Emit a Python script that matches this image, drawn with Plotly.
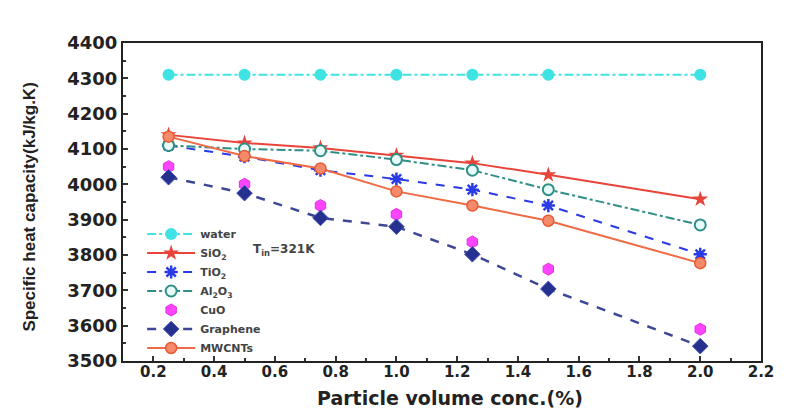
import plotly.graph_objects as go

conc = [0.25, 0.5, 0.75, 1.0, 1.25, 1.5, 2.0]
water = [4310, 4310, 4310, 4310, 4310, 4310, 4310]
sio2 = [4140, 4117, 4103, 4082, 4060, 4027, 3958]
tio2 = [4110, 4078, 4040, 4015, 3985, 3940, 3802]
al2o3 = [4110, 4100, 4095, 4070, 4040, 3985, 3885]
cuo = [4050, 4000, 3940, 3915, 3837, 3760, 3590]
graphene = [4020, 3975, 3905, 3880, 3802, 3704, 3542]
mwcnts = [4135, 4080, 4045, 3980, 3940, 3897, 3777]

x_ticks = [0.2, 0.4, 0.6, 0.8, 1.0, 1.2, 1.4, 1.6, 1.8, 2.0, 2.2]
y_ticks = [3500, 3600, 3700, 3800, 3900, 4000, 4100, 4200, 4300, 4400]

series = [
    ("water", water, dict(color="#3fe3e3", width=2, dash="dashdot"),
     dict(symbol="circle", size=12, color="#3fe3e3", line=dict(width=0)), "lines+markers"),
    ("SiO<sub>2</sub>", sio2, dict(color="#e8443a", width=2),
     dict(symbol="star", size=12, color="#e8443a", line=dict(width=0)), "lines+markers"),
    ("TiO<sub>2</sub>", tio2, dict(color="#2a3be6", width=2, dash="dash"),
     dict(symbol="asterisk-open", size=11, line=dict(color="#1a2bee", width=2.5)), "lines+markers"),
    ("Al<sub>2</sub>O<sub>3</sub>", al2o3, dict(color="#2f8f86", width=2, dash="dashdot"),
     dict(symbol="circle", size=11, color="#e8fbf8", line=dict(color="#2f8f86", width=2)), "lines+markers"),
    ("CuO", cuo, dict(color="#ff40ff", width=2),
     dict(symbol="hexagon", size=12, color="#ff44ff", line=dict(color="#e030e0", width=1)), "markers"),
    ("Graphene", graphene, dict(color="#3e4796", width=2.5, dash="dash"),
     dict(symbol="diamond", size=12, color="#26318f", line=dict(color="#4452b8", width=1)), "lines+markers"),
    ("MWCNTs", mwcnts, dict(color="#ef6a45", width=2),
     dict(symbol="circle", size=11, color="#f58a6a", line=dict(color="#e85a36", width=1.5)), "lines+markers"),
]

fig = go.Figure()
for name, vals, line, marker, mode in series:
    fig.add_trace(go.Scatter(x=conc, y=vals, name=name, mode=mode,
                             line=line, marker=marker))

fig.update_layout(
    width=795, height=411,
    margin=dict(l=123, r=34, t=43, b=50),
    paper_bgcolor="white", plot_bgcolor="white",
    showlegend=True,
    legend=dict(x=0.03, y=0.445, xanchor="left", yanchor="top",
                bgcolor="rgba(0,0,0,0)", tracegroupgap=0,
                font=dict(family="DejaVu Sans", size=11, color="#444444", weight="bold"),
                itemwidth=48),
    xaxis=dict(range=[0.1, 2.2], tickvals=x_ticks,
               ticktext=["%.1f" % v for v in x_ticks],
               ticks="inside", ticklen=5, tickwidth=1.5, tickcolor="#333",
               minor=dict(ticks="inside", dtick=0.1, ticklen=3, tickcolor="#333"),
               showline=True, linecolor="#222", linewidth=2, mirror=True,
               showgrid=False, zeroline=False, ticklabelstandoff=-4,
               tickfont=dict(family="DejaVu Sans", size=15, color="#222222", weight="bold")),
    yaxis=dict(range=[3500, 4400], tickvals=y_ticks,
               ticks="inside", ticklen=5, tickwidth=1.5, tickcolor="#333",
               minor=dict(ticks="inside", dtick=50, ticklen=3, tickcolor="#333"),
               showline=True, linecolor="#222", linewidth=2, mirror=True,
               showgrid=False, zeroline=False,
               tickfont=dict(family="DejaVu Sans", size=18, color="#222222", weight="bold")),
)

# axis titles
fig.add_annotation(xref="paper", yref="paper", x=0.5125, y=-0.115,
                   xanchor="center", yanchor="middle", showarrow=False,
                   text="Particle volume conc.(%)",
                   font=dict(family="DejaVu Sans", size=19, color="#222", weight="bold"))
fig.add_annotation(xref="paper", yref="paper", x=-0.146, y=0.485,
                   xanchor="center", yanchor="middle", showarrow=False, textangle=-90,
                   text="Specific heat capacity(kJ/kg.K)",
                   font=dict(family="Liberation Sans", size=17, color="#222", weight="bold"))

fig.add_annotation(x=0.63, y=3814, xref="x", yref="y", showarrow=False,
                   text="T<sub>in</sub>=321K",
                   font=dict(family="DejaVu Sans", size=12, color="#444", weight="bold"))

fig.write_html("out.html")
